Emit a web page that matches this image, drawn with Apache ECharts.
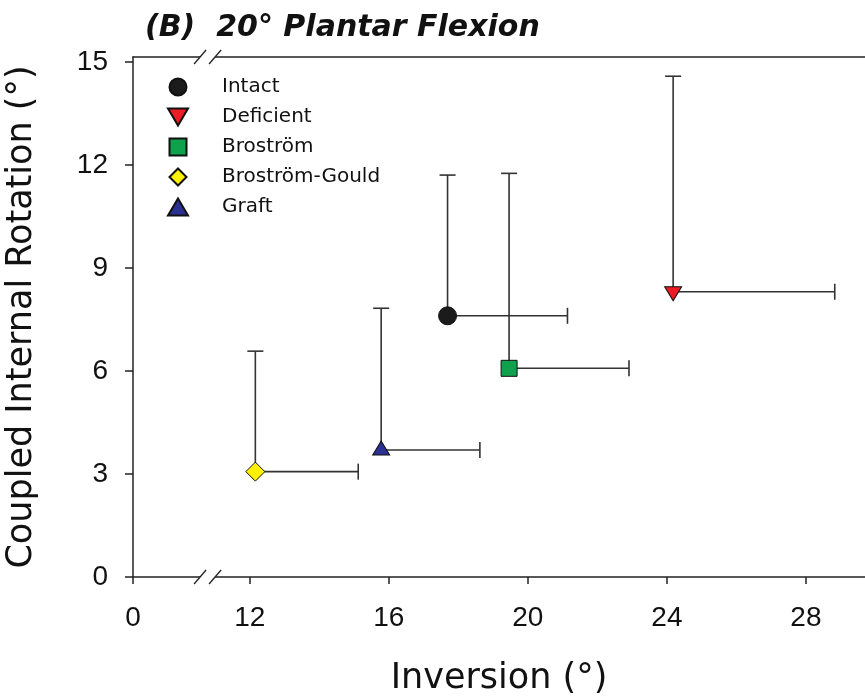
<!DOCTYPE html>
<html>
<head>
<meta charset="utf-8">
<script src="https://cdn.jsdelivr.net/npm/echarts@6/dist/echarts.min.js"></script>
<style>
html, body { margin: 0; padding: 0; background: #fff; }
#chart { width: 865px; height: 698px; }
</style>
</head>
<body>
<div id="chart"></div>
<script>
var groups = ['Intact', 'Deficient', 'Broström', 'Broström-Gould', 'Graft'];
var inversion = [17.69, 24.18, 19.46, 12.16, 15.78];
var inversionSD = [3.45, 4.65, 3.45, 2.96, 2.84];
var rotation = [7.61, 8.31, 6.08, 3.07, 3.70];
var rotationSD = [4.10, 6.28, 5.68, 3.51, 4.13];
var xTicks = [12, 16, 20, 24, 28];
var yTicks = [0, 3, 6, 9, 12, 15];

// x axis is broken: the "0" label sits at the left end, values up to ~11 are cut out
var xStart = 8.64, xEnd = 29.7, xBreak = 10.8;
var yMax = 15.15;

var colors = ['#1b1b1b', '#ed1c24', '#0fa14c', '#fff200', '#2b3192'];
var symbols = ['circle', 'path://M0,0L20,0L10,17Z', 'path://M0,0L10,0L10,10L0,10Z',
               'path://M10,0L20,10L10,20L0,10Z', 'path://M10,0L20,17L0,17Z'];
var sizes = [18, [17, 14], 16, 19, [17, 14]];
var offsets = [[0, 0], [0, 2], [0, 0], [0, 0], [0, -2]];

var font = 'DejaVu Sans';
var ink = '#111';

var myChart = echarts.init(document.getElementById('chart'));

var series = [{
    name: 'errorbars',
    type: 'custom',
    z: 1,
    clip: false,
    silent: true,
    encode: { x: 0, y: 1 },
    data: groups.map(function (g, i) {
        return [inversion[i], rotation[i], inversion[i] + inversionSD[i], rotation[i] + rotationSD[i]];
    }),
    renderItem: function (params, api) {
        var p = api.coord([api.value(0), api.value(1)]);
        var px = api.coord([api.value(2), api.value(1)]);
        var py = api.coord([api.value(0), api.value(3)]);
        var c = 8;
        var st = { stroke: '#333', lineWidth: 1.6 };
        return {
            type: 'group',
            children: [
                { type: 'line', shape: { x1: p[0], y1: p[1], x2: py[0], y2: py[1] }, style: st },
                { type: 'line', shape: { x1: py[0] - c, y1: py[1], x2: py[0] + c, y2: py[1] }, style: st },
                { type: 'line', shape: { x1: p[0], y1: p[1], x2: px[0], y2: px[1] }, style: st },
                { type: 'line', shape: { x1: px[0], y1: px[1] - c, x2: px[0], y2: px[1] + c }, style: st }
            ]
        };
    }
}];

groups.forEach(function (g, i) {
    series.push({
        name: g,
        type: 'scatter',
        z: 3,
        symbol: symbols[i],
        symbolSize: sizes[i],
        symbolOffset: offsets[i],
        itemStyle: { color: colors[i], borderColor: '#111', borderWidth: 1, opacity: 1 },
        data: [[inversion[i], rotation[i]]]
    });
});

var xLabelValues = [xStart].concat(xTicks);

myChart.setOption({
    animation: false,
    title: {
        text: '(B)  20° Plantar Flexion',
        left: 140,
        top: 8,
        textStyle: { fontFamily: font, fontStyle: 'italic', fontWeight: 'bold', fontSize: 30, color: ink }
    },
    legend: {
        data: groups,
        orient: 'vertical',
        left: 162,
        top: 72,
        itemWidth: 78,
        itemHeight: 17,
        itemGap: 10,
        textStyle: { fontFamily: font, fontSize: 20, color: ink }
    },
    grid: { left: 133, right: 0, top: 57, bottom: 121, outerBoundsMode: 'none' },
    xAxis: [{
        type: 'value',
        position: 'bottom',
        min: xStart,
        max: xEnd,
        splitLine: { show: false },
        axisLine: { lineStyle: { color: '#222', width: 1.5 } },
        axisTick: { customValues: xLabelValues, length: 7, lineStyle: { color: '#222', width: 1.5 } },
        axisLabel: {
            customValues: xLabelValues,
            margin: 27,
            fontFamily: 'Liberation Sans',
            fontSize: 28,
            color: ink,
            formatter: function (v) { return v === xStart ? '0' : String(v); }
        },
        name: 'Inversion (°)',
        nameLocation: 'middle',
        nameGap: 84,
        nameTextStyle: { fontFamily: font, fontSize: 35, color: ink }
    }, {
        type: 'value',
        position: 'top',
        min: xStart,
        max: xEnd,
        splitLine: { show: false },
        axisLine: { show: true, lineStyle: { color: '#222', width: 1.5 } },
        axisTick: { show: false },
        axisLabel: { show: false }
    }],
    yAxis: {
        type: 'value',
        min: 0,
        max: yMax,
        splitLine: { show: false },
        axisLine: { show: true, lineStyle: { color: '#222', width: 1.5 } },
        axisTick: { show: true, customValues: yTicks, length: 8, lineStyle: { color: '#222', width: 1.5 } },
        axisLabel: { customValues: yTicks, margin: 25, fontFamily: 'Liberation Sans', fontSize: 28, color: ink },
        name: 'Coupled Internal Rotation (°)',
        nameLocation: 'middle',
        nameRotate: 90,
        nameGap: 94,
        nameTextStyle: { fontFamily: font, fontSize: 35, color: ink }
    },
    series: series
});

// "//" break marks on the bottom and top axis lines
var bx = myChart.convertToPixel({ xAxisIndex: 0 }, xBreak);
var yBottom = myChart.convertToPixel({ yAxisIndex: 0 }, 0);
var yTop = myChart.convertToPixel({ yAxisIndex: 0 }, yMax);

function breakMark(y) {
    var st = { stroke: '#222', lineWidth: 1.3 };
    return [
        { type: 'rect', shape: { x: bx - 8, y: y - 3, width: 15, height: 6 }, style: { fill: '#fff' }, z: 50 },
        { type: 'line', shape: { x1: bx - 14, y1: y + 7, x2: bx - 2, y2: y - 7 }, style: st, z: 51 },
        { type: 'line', shape: { x1: bx + 1, y1: y + 7, x2: bx + 13, y2: y - 7 }, style: st, z: 51 }
    ];
}

myChart.setOption({ graphic: breakMark(yBottom).concat(breakMark(yTop)) });
</script>
</body>
</html>
